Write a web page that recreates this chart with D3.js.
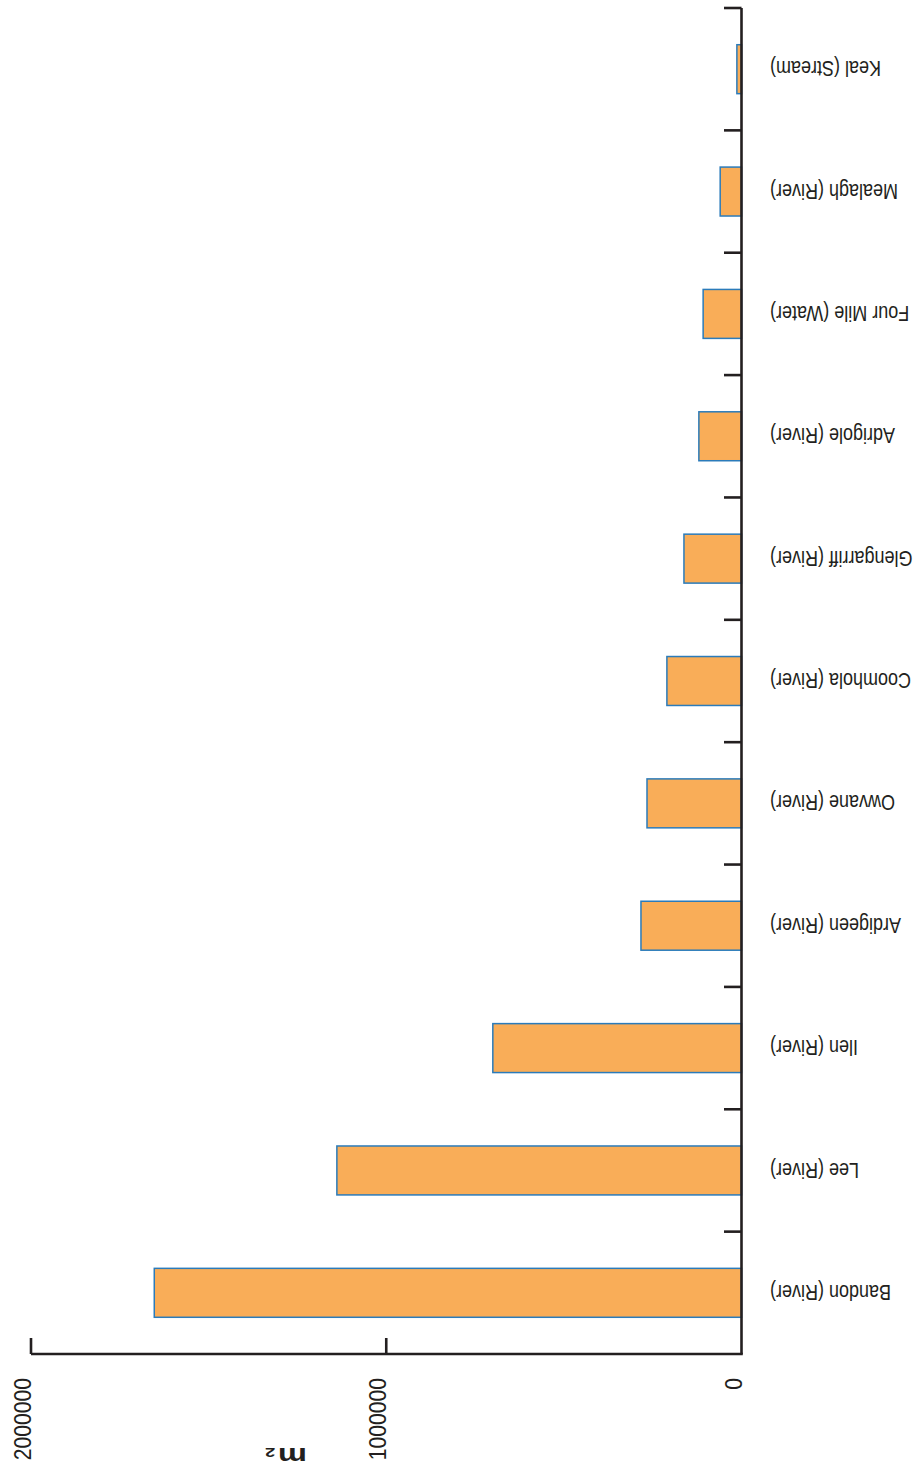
<!DOCTYPE html>
<html>
<head>
<meta charset="utf-8">
<script src="https://cdn.jsdelivr.net/npm/d3@7/dist/d3.min.js"></script>
<style>
  html, body { margin: 0; padding: 0; background: #fff; }
  svg { display: block; }
  text { font-family: "Liberation Sans", Arial, Helvetica, sans-serif; fill: #231f20; }
</style>
</head>
<body>
<svg id="chart" width="920" height="1476"></svg>
<script>
// ---- data ----
const categories = [
  "Bandon (River)", "Lee (River)", "Ilen (River)", "Ardigeen (River)",
  "Owvane (River)", "Coomhola (River)", "Glengarriff (River)",
  "Adrigole (River)", "Four Mile (Water)", "Mealagh (River)", "Keal (Stream)"
];
const areaValues = [
  1653000, 1139000, 700000, 283000, 266000, 210000, 162000,
  120000, 108000, 60000, 13000
];
const valueTicks = [0, 1000000, 2000000];
const valueTickLabels = ["0", "1000000", "2000000"];
const axisTitle = "m";
const axisTitleSup = "2";

// ---- layout (chart drawn normally then rotated 180°) ----
const W = 920, H = 1476;
const svg = d3.select("#chart");
const root = svg.append("g").attr("transform", `rotate(180 ${W/2} ${H/2})`);

const x0 = 178.5, x1 = 889;
const yTop = 122, yBot = 1468;

const x = d3.scaleLinear().domain([0, 2000000]).range([x0, x1]);
const y = d3.scaleBand().domain(categories).range([yTop, yBot])
  .paddingInner(0.6).paddingOuter(0.3);

const axisColor = "#231f20";

// bars
root.append("g").selectAll("rect")
  .data(categories.map((c, i) => ({ c, v: areaValues[i] })))
  .join("rect")
  .attr("x", x(0))
  .attr("y", d => y(d.c))
  .attr("width", d => x(d.v) - x(0))
  .attr("height", y.bandwidth())
  .attr("fill", "#f9ad58")
  .attr("stroke", "#2b7bba")
  .attr("stroke-width", 1.5);

// category axis line + boundary ticks
const step = y.step();
const boundaries = d3.range(categories.length + 1).map(i => yTop + i * step);
const catAxis = root.append("g");
catAxis.append("line")
  .attr("x1", x0).attr("x2", x0)
  .attr("y1", yTop).attr("y2", yBot)
  .attr("stroke", axisColor).attr("stroke-width", 2.6);
catAxis.selectAll("line.tick").data(boundaries.slice(1)).join("line")
  .attr("class", "tick")
  .attr("x1", x0).attr("x2", x0 + 17.5)
  .attr("y1", d => d).attr("y2", d => d)
  .attr("stroke", axisColor).attr("stroke-width", 2.6);

// category labels
catAxis.selectAll("text").data(categories).join("text")
  .attr("transform", d => `translate(150, ${y(d) + y.bandwidth()/2}) scale(0.8,1)`)
  .attr("text-anchor", "end")
  .attr("dy", "0.35em")
  .style("font-size", "22.5px")
  .text(d => d);

// value axis
const valAxis = root.append("g");
valAxis.append("line")
  .attr("x1", x0 - 1.3).attr("x2", x1)
  .attr("y1", yTop).attr("y2", yTop)
  .attr("stroke", axisColor).attr("stroke-width", 2.6);
valAxis.selectAll("line.tick").data(valueTicks.slice(1)).join("line")
  .attr("class", "tick")
  .attr("x1", d => x(d)).attr("x2", d => x(d))
  .attr("y1", yTop).attr("y2", yTop + 16)
  .attr("stroke", axisColor).attr("stroke-width", 2.6);
valAxis.selectAll("text").data(valueTicks).join("text")
  .attr("transform", d => `translate(${x(d)}, 98) rotate(90) scale(0.92,1)`)
  .attr("text-anchor", "end")
  .style("font-size", "23px")
  .text((d, i) => valueTickLabels[i]);

// axis title
const t = root.append("text")
  .attr("transform", "translate(613, 28) scale(1.42,1)")
  .style("font-size", "23px")
  .style("font-weight", "bold");
t.append("tspan").text(axisTitle);
t.append("tspan").attr("dx", 2).style("font-size", "13px").text(axisTitleSup);
</script>
</body>
</html>
